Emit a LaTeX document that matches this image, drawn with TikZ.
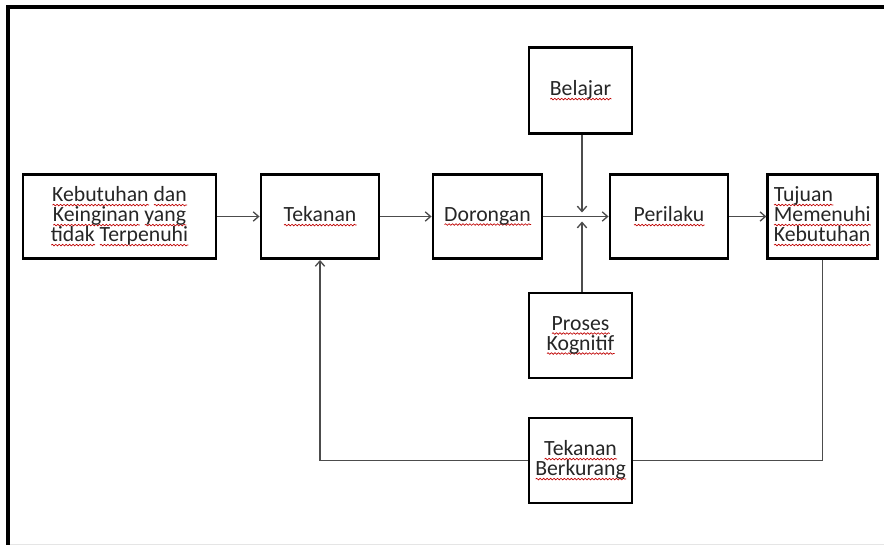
\documentclass[tikz,border=0pt]{standalone}
\usepackage{fontspec}
\setmainfont{Carlito}
\usetikzlibrary{calc,arrows.meta,positioning,decorations.pathmorphing}
\newcommand\salah[1]{\setbox0\hbox{#1}\leavevmode\rlap{\tikz[baseline=0pt]
  \draw[red!75!black,line width=0.5pt,solid,decorate,
    decoration={snake,amplitude=0.6pt,segment length=2.6pt}]
    (0pt,-2.4pt) -- (\the\wd0,-2.4pt);}\box0\relax}

\begin{document}
\begin{tikzpicture}[x=0.75pt,y=-0.75pt,
  kotak/.style={draw=black,line width=2.2pt,inner sep=2pt,text=black!85,
    font=\fontsize{16.3}{15}\selectfont,align=center,minimum height=63pt},
  garis/.style={line width=1pt,draw=black!70},
  panah/.style={garis,-{Straight Barb[length=4pt,width=7pt]}}]
  \useasboundingbox (0,0) rectangle (884,545);
  \draw[line width=3.4pt] (8,545) -- (8,7) -- (884,7);
  \draw[gray!20] (10,544) -- (884,544);

  \node[kotak,minimum width=144.75pt] (keb) at (119.5,216.5)
    {\salah{Kebutuhan} \salah{dan}\\ \salah{Keinginan} \salah{yang}\\ \salah{tidak} \salah{Terpenuhi}};
  \node[kotak,minimum width=88.5pt] (tek) at (320,216.5) {\salah{Tekanan}};
  \node[kotak,minimum width=81.75pt] (dor) at (487.5,216.5) {\salah{Dorongan}};
  \node[kotak,minimum width=88.5pt] (per) at (669,216.5) {\salah{Perilaku}};
  \node[kotak,text width=73pt,align=left,inner xsep=4.5pt] (tuj) at (822.5,216.5)
    {\salah{Tujuan}\\ \salah{Memenuhi}\\ \salah{Kebutuhan}};
  \node[kotak,minimum width=77.25pt,minimum height=64pt] (bel) at (580.5,90.5) {\salah{Belajar}};
  \node[kotak,minimum width=77.25pt,minimum height=63.75pt] (pro) at (580.5,335.5)
    {\salah{Proses}\\ \salah{Kognitif}};
  \node[kotak,minimum width=77.25pt,minimum height=63.75pt] (tkb) at (580.5,460.5)
    {\salah{Tekanan}\\ \salah{Berkurang}};

  \coordinate (jn) at (582,216.5);

  \draw[panah] (keb) -- (tek);
  \draw[panah] (tek) -- (dor);
  \draw[panah] (dor) -- (per);
  \draw[panah] (per) -- (tuj);
  \draw[panah] (bel.south -| jn) -- ($(jn)+(0,-4)$);
  \draw[panah] (pro.north -| jn) -- ($(jn)+(0,5)$);
  \draw[garis] (tuj.south) |- (tkb.east);
  \draw[panah] (tkb.west) -| (tek.south);
\end{tikzpicture}
\end{document}
